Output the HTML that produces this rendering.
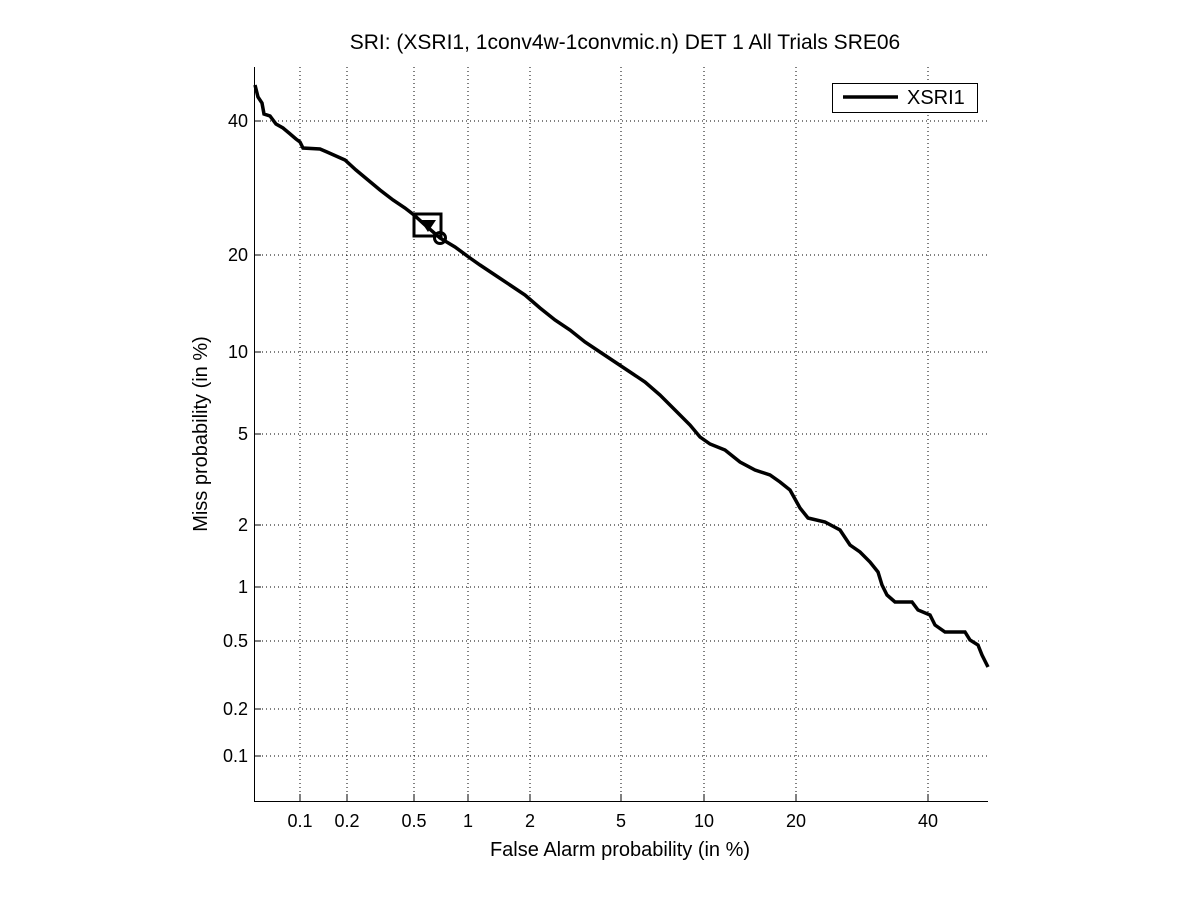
<!DOCTYPE html>
<html><head><meta charset="utf-8"><style>body{margin:0;background:#fff}svg{display:block}</style></head><body>
<svg width="1201" height="900" xmlns="http://www.w3.org/2000/svg" font-family="Liberation Sans, Arial, sans-serif">
<rect width="1201" height="900" fill="#fff"/>
<g stroke="#000" stroke-width="1" stroke-dasharray="1,3">
<line x1="300" y1="67" x2="300" y2="801"/><line x1="347" y1="67" x2="347" y2="801"/><line x1="414" y1="67" x2="414" y2="801"/><line x1="468" y1="67" x2="468" y2="801"/><line x1="530" y1="67" x2="530" y2="801"/><line x1="621" y1="67" x2="621" y2="801"/><line x1="704" y1="67" x2="704" y2="801"/><line x1="796" y1="67" x2="796" y2="801"/><line x1="928" y1="67" x2="928" y2="801"/>
<line x1="254" y1="121" x2="988" y2="121"/><line x1="254" y1="255" x2="988" y2="255"/><line x1="254" y1="352" x2="988" y2="352"/><line x1="254" y1="434" x2="988" y2="434"/><line x1="254" y1="525" x2="988" y2="525"/><line x1="254" y1="587" x2="988" y2="587"/><line x1="254" y1="641" x2="988" y2="641"/><line x1="254" y1="709" x2="988" y2="709"/><line x1="254" y1="756" x2="988" y2="756"/>
</g>
<g stroke="#000" stroke-width="1">
<line x1="254.5" y1="67" x2="254.5" y2="801"/><line x1="254" y1="801.5" x2="988" y2="801.5"/>
<path d="M300 801v-7M347 801v-7M414 801v-7M468 801v-7M530 801v-7M621 801v-7M704 801v-7M796 801v-7M928 801v-7M254 121h7M254 255h7M254 352h7M254 434h7M254 525h7M254 587h7M254 641h7M254 709h7M254 756h7"/>
</g>
<polyline fill="none" stroke="#000" stroke-width="3.5" stroke-linejoin="miter" points="255,85 258,97 262,103 264,114 270,116 276,124 283,128 289,133 296,139 300,142 303,148 320,149 327,152 345,160 356,170 368,180 380,190 393,200 405,208 414,215 425,225 440,238 455,247 470,258 480,265 495,275 510,285 525,295 540,308 555,320 570,330 585,342 600,352 615,362 630,372 645,382 660,395 675,410 690,425 700,437 710,444 725,450 740,462 755,470 770,475 780,482 790,490 800,508 808,518 825,522 840,530 850,545 860,552 870,562 878,572 882,585 887,595 895,602 912,602 918,610 930,615 935,625 945,632 965,632 970,640 978,645 982,655 988,667"/>
<rect x="414" y="214" width="27" height="22" fill="none" stroke="#000" stroke-width="3"/>
<polygon points="420,220 436,220 428,232" fill="#000"/>
<circle cx="440" cy="238" r="5.5" fill="none" stroke="#000" stroke-width="3"/>
<g font-size="18" text-anchor="end">
<text x="248" y="127">40</text><text x="248" y="261">20</text><text x="248" y="358">10</text><text x="248" y="440">5</text><text x="248" y="531">2</text><text x="248" y="593">1</text><text x="248" y="647">0.5</text><text x="248" y="715">0.2</text><text x="248" y="762">0.1</text>
</g>
<g font-size="18" text-anchor="middle">
<text x="300" y="827">0.1</text><text x="347" y="827">0.2</text><text x="414" y="827">0.5</text><text x="468" y="827">1</text><text x="530" y="827">2</text><text x="621" y="827">5</text><text x="704" y="827">10</text><text x="796" y="827">20</text><text x="928" y="827">40</text>
</g>
<g font-size="20" text-anchor="middle">
<text x="620" y="856">False Alarm probability (in %)</text>
<text x="625" y="49" font-size="21">SRI: (XSRI1, 1conv4w-1convmic.n) DET 1 All Trials SRE06</text>
<text transform="translate(207,434) rotate(-90)">Miss probability (in %)</text>
</g>
<rect x="832.5" y="83.5" width="145" height="29" fill="#fff" stroke="#000"/>
<line x1="843" y1="97" x2="898" y2="97" stroke="#000" stroke-width="3.5"/>
<text x="907" y="104" font-size="20">XSRI1</text>
</svg>
</body></html>
